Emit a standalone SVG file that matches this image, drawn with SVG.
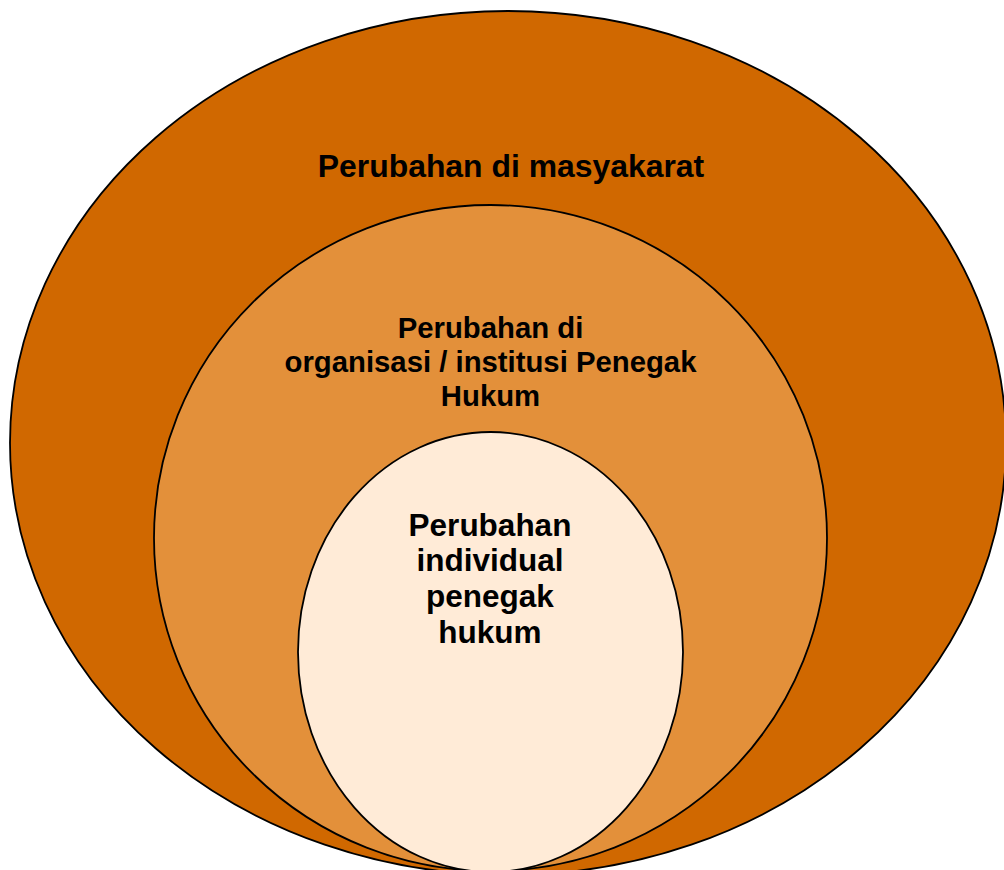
<svg xmlns="http://www.w3.org/2000/svg" width="1004" height="870" viewBox="0 0 1004 870">
<style>
.ring{stroke:#000;stroke-width:1.8}
.lbl{font-family:"Liberation Sans",Arial,sans-serif;font-weight:bold;fill:#000;text-anchor:middle}
</style>
<rect width="1004" height="870" fill="#fff"/>
<g id="outer">
<ellipse class="ring" cx="508" cy="443" rx="498" ry="432" fill="#D06800"/>
<text class="lbl" x="511" y="176.5" font-size="31.9">Perubahan di masyakarat</text>
</g>
<g id="middle">
<ellipse class="ring" cx="490.5" cy="538" rx="336.5" ry="333" fill="#E3903A"/>
<text class="lbl" font-size="29.3"><tspan x="490.5" y="338">Perubahan di</tspan><tspan x="490.5" y="372">organisasi / institusi Penegak</tspan><tspan x="490.5" y="406">Hukum</tspan></text>
</g>
<g id="inner">
<ellipse class="ring" cx="490.5" cy="652" rx="192.5" ry="220" fill="#FFEBD7"/>
<text class="lbl" font-size="31.5"><tspan x="490" y="536">Perubahan</tspan><tspan x="490" y="571">individual</tspan><tspan x="490" y="607">penegak</tspan><tspan x="490" y="643">hukum</tspan></text>
</g>
<g id="connectors"></g>
</svg>
